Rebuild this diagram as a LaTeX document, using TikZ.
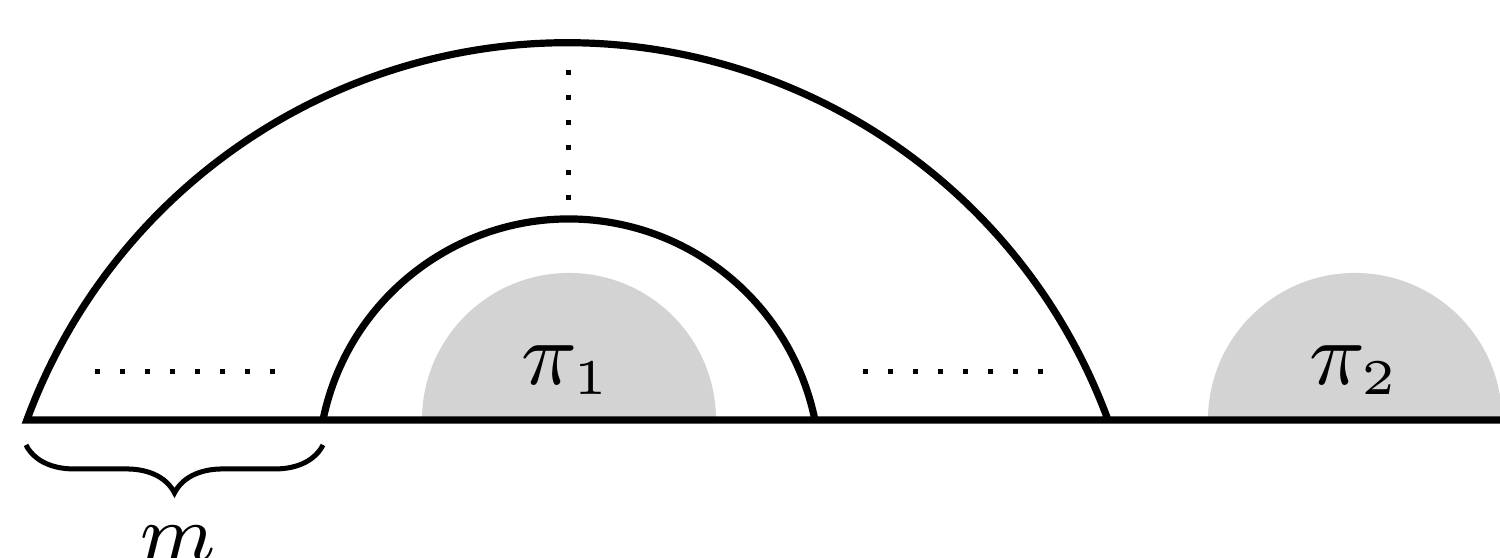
\documentclass[tikz,border=0pt]{standalone}
\usetikzlibrary{decorations.pathreplacing}
\definecolor{regiongray}{RGB}{211,211,211}
\begin{document}
\begin{tikzpicture}[x=0.1pt,y=0.1pt,
  curve/.style={line width=0.72pt, line join=miter},
  dotrow/.style={line width=0.5pt, dash pattern=on 0.5pt off 2pt},
  region/.style={fill=regiongray},
  lbl/.style={inner sep=0pt, anchor=base},
  bracestyle/.style={line width=0.5pt, decorate, decoration={brace, mirror, amplitude=4.8pt}}]
\clip (0,0) rectangle (1500,558);
% named points
\coordinate (oL) at (27,138);
\coordinate (oR) at (1108,138);
\coordinate (iL) at (323,138);
\coordinate (iR) at (815,138);
\coordinate (bEnd) at (1520,138);
\coordinate (g1L) at (422,138);
\coordinate (g2L) at (1208,138);
\coordinate (bL) at (26,113);
\coordinate (bR) at (323,113);
\coordinate (d1a) at (95,186.5);
\coordinate (d1b) at (275,186.5);
\coordinate (d2a) at (863,186.5);
\coordinate (d2b) at (1043,186.5);
\coordinate (d3a) at (568,488);
\coordinate (d3b) at (568,358);
% gray regions
\fill[region] (g1L) arc[start angle=180, end angle=0, radius=147] -- cycle;
\fill[region] (g2L) arc[start angle=180, end angle=0, radius=147] -- cycle;
\node[lbl] (p1) at (567,173) {\fontsize{8.8}{10}\selectfont $\pi_{\scriptscriptstyle 1}$};
\node[lbl] (p2) at (1355,173) {\fontsize{8.8}{10}\selectfont $\pi_{\scriptscriptstyle 2}$};
% outer arc and baseline
\draw[curve] (oR) arc[start angle=20.2, end angle=159.8, radius=576] -- (bEnd);
% inner arc
\draw[curve] (iL) arc[start angle=168.5, end angle=11.5, radius=251];
% dots
\draw[dotrow] (d1a) -- (d1b);
\draw[dotrow] (d2a) -- (d2b);
\draw[dotrow] (d3a) -- (d3b);
% brace
\draw[bracestyle] (bL) -- (bR);
\node[lbl] (m) at (178,-3) {\fontsize{7.8}{9}\selectfont $m$};
\end{tikzpicture}
\end{document}
